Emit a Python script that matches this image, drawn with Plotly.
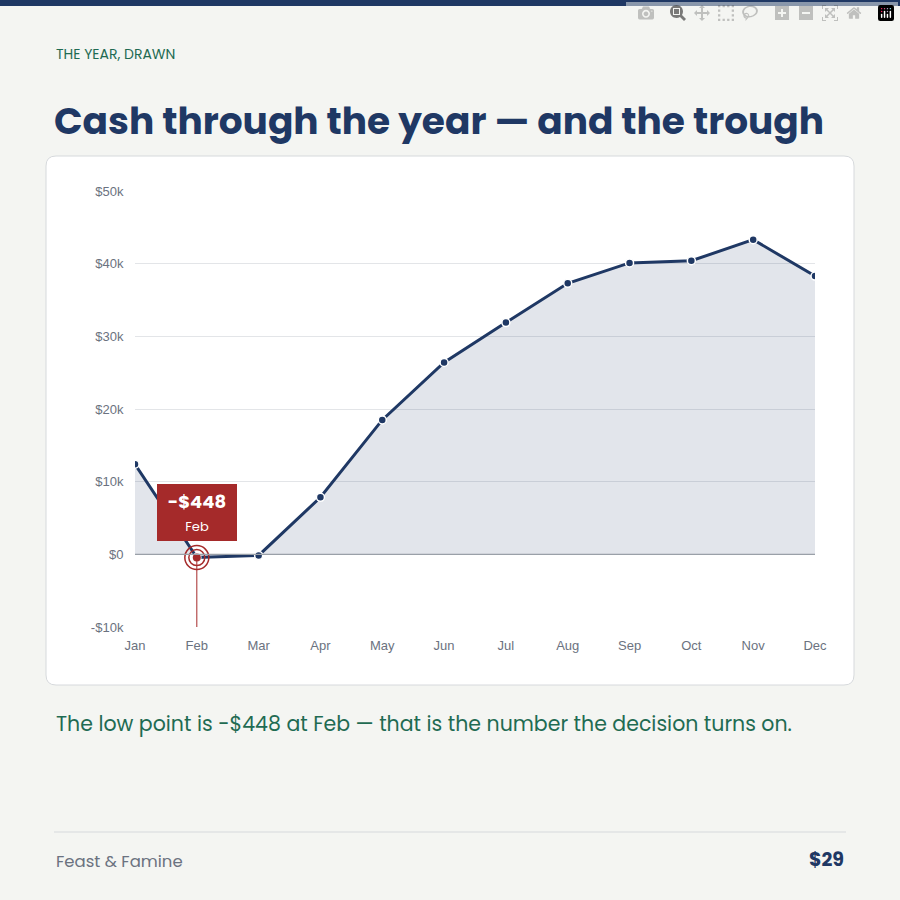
import plotly.graph_objects as go

months = ["Jan","Feb","Mar","Apr","May","Jun","Jul","Aug","Sep","Oct","Nov","Dec"]
cash = [12400, -448, -150, 7850, 18500, 26400, 31900, 37300, 40100, 40400, 43300, 38300]
tick_vals = [-10000, 0, 10000, 20000, 30000, 40000, 50000]
tick_text = ["-$10k", "$0", "$10k", "$20k", "$30k", "$40k", "$50k"]

NAVY = "#1f3864"; GREEN = "#1f6b52"; RED = "#a52a2a"; GREY = "#6b7280"
L, R, T, B = 135, 815, 191, 627
def px(x): return (x - L) / (R - L)
def py(y): return (B - y) / (B - T)

def rrect(x0, y0, x1, y1, r):
    X = lambda v: px(v); Y = lambda v: py(v)
    return (f"M {X(x0+r)} {Y(y0)} L {X(x1-r)} {Y(y0)} Q {X(x1)} {Y(y0)} {X(x1)} {Y(y0+r)} "
            f"L {X(x1)} {Y(y1-r)} Q {X(x1)} {Y(y1)} {X(x1-r)} {Y(y1)} L {X(x0+r)} {Y(y1)} "
            f"Q {X(x0)} {Y(y1)} {X(x0)} {Y(y1-r)} L {X(x0)} {Y(y0+r)} Q {X(x0)} {Y(y0)} {X(x0+r)} {Y(y0)} Z")

fig = go.Figure()
fig.add_trace(go.Scatter(x=months, y=cash, mode="lines+markers", fill="tozeroy",
    fillcolor="rgba(31,56,100,0.13)", line=dict(color=NAVY, width=3),
    marker=dict(size=8, color=NAVY, line=dict(color="white", width=1.5)), hoverinfo="skip"))
fig.add_trace(go.Scatter(x=[months[1], months[1]], y=[cash[1], -10000], mode="lines",
    line=dict(color=RED, width=1), hoverinfo="skip"))
for s in (24, 16):
    fig.add_trace(go.Scatter(x=[months[1]], y=[cash[1]], mode="markers",
        marker=dict(size=s, color=RED, symbol="circle-open", line=dict(color=RED, width=1.5)),
        hoverinfo="skip"))
fig.add_trace(go.Scatter(x=[months[1]], y=[cash[1]], mode="markers",
    marker=dict(size=8, color=RED), hoverinfo="skip"))

shapes = [
    dict(type="rect", xref="paper", yref="paper", x0=px(0), x1=px(900), y0=py(0), y1=py(6),
         fillcolor=NAVY, line_width=0, layer="below"),
    dict(type="path", xref="paper", yref="paper", path=rrect(46, 156, 854, 685, 10),
         fillcolor="white", line=dict(color="#d6d9dc", width=1), layer="below"),
    dict(type="line", xref="paper", yref="paper", x0=px(54), x1=px(846), y0=py(832), y1=py(832),
         line=dict(color="#d6d9dc", width=1)),
    dict(type="line", xref="paper", yref="y", x0=0, x1=1, y0=0, y1=0,
         line=dict(color="#9aa0a8", width=1.2)),
]
F = "Poppins, Inter, sans-serif"
ann = [
    dict(x=px(54), y=py(54), text="THE YEAR, DRAWN", font=dict(size=14, color=GREEN, family=F)),
    dict(x=px(52), y=py(121), text="<b>Cash through the year — and the trough</b>", font=dict(size=37.5, color=NAVY, family=F)),
    dict(x=px(54), y=py(723), text="The low point is -$448 at Feb — that is the number the decision turns on.", font=dict(size=20.5, color=GREEN, family=F)),
    dict(x=px(54), y=py(861), text="Feast &amp; Famine", font=dict(size=16.5, color=GREY, family=F)),
]
for a in ann:
    a.update(xref="paper", yref="paper", xanchor="left", yanchor="middle", showarrow=False)
    fig.add_annotation(**a)
fig.add_annotation(xref="paper", yref="paper", x=px(846), y=py(860), xanchor="right", yanchor="middle",
    showarrow=False, text="<b>$29</b>", font=dict(size=19, color=NAVY, family=F))
fig.add_annotation(x=months[1], y=5800, xref="x", yref="y", showarrow=False,
    text="<b>-$448</b><br><span style='font-size:13px'>Feb</span>",
    font=dict(size=18, color="white", family=F),
    bgcolor=RED, borderpad=4, bordercolor=RED, width=70, align="center")

fig.update_layout(width=900, height=900, margin=dict(l=L, r=900-R, t=T, b=900-B),
    paper_bgcolor="#f4f5f2", plot_bgcolor="rgba(0,0,0,0)", showlegend=False, shapes=shapes,
    font=dict(family="Liberation Sans, Arial, sans-serif", color=GREY, size=13),
    xaxis=dict(range=[0, 11], showgrid=False, zeroline=False, showline=False,
               ticks="outside", ticklen=6, tickcolor="rgba(0,0,0,0)"),
    yaxis=dict(range=[-10000, 50000], tickvals=tick_vals, ticktext=tick_text, gridcolor="#e3e5e8",
               zeroline=False, ticks="outside", ticklen=8, tickcolor="rgba(0,0,0,0)"))
fig.write_html("out.html", post_script="document.body.style.margin='0';")
